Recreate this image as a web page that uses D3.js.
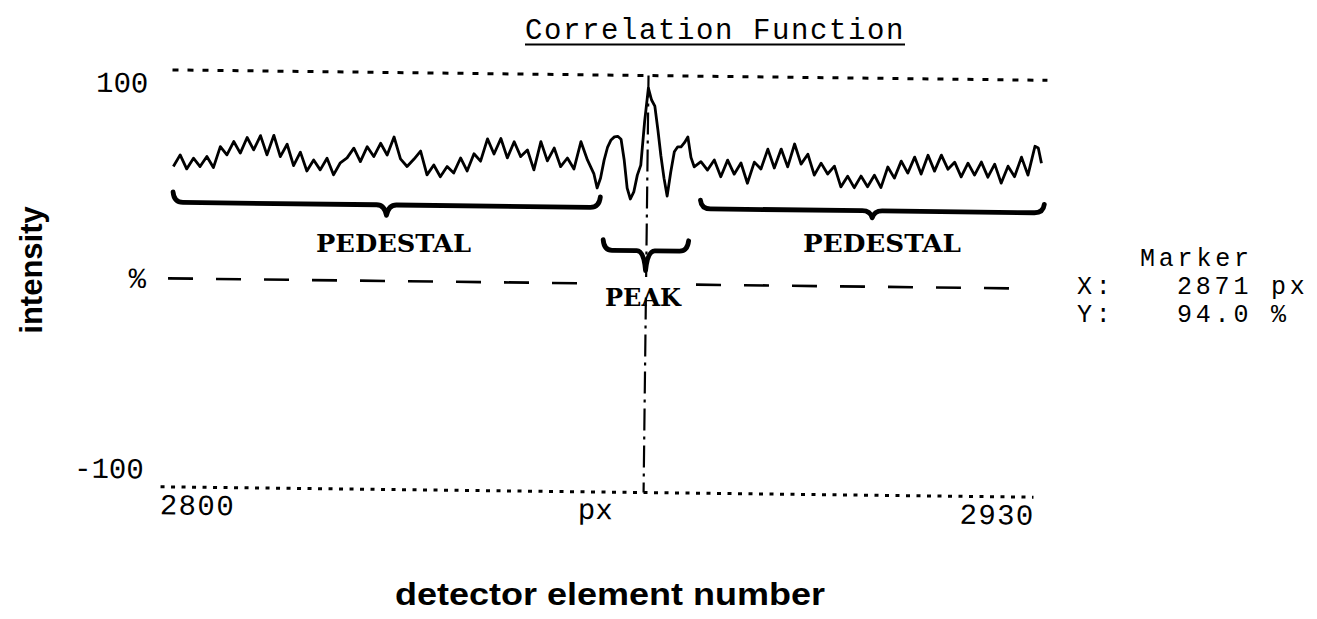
<!DOCTYPE html>
<html><head><meta charset="utf-8">
<script src="https://cdn.jsdelivr.net/npm/d3@7"></script>
<style>body{margin:0;background:#fff} svg{display:block}</style>
</head><body>
<svg id="chart" width="1317" height="619"></svg>
<script>
// ---- data ----
const elements = [
 2800,2801,2802,2803,2804,2805,2806,2807,2808,2809,2810,2811,2812,2813,2814,2815,2816,2817,2818,2819,
 2820,2821,2822,2823,2824,2825,2826,2827,2828,2829,2830,2831,2832,2833,2834,2835,2836,2837,2838,2839,
 2840,2841,2842,2843,2844,2845,2846,2847,2848,2849,2850,2851,2852,2853,2854,2855,2856,2857,2858,2859,
 2860,2861,2862,2863,2863.5,2864,2864.5,2865,2865.5,2866,2866.5,2867,2867.5,2868,2868.5,2869,2869.5,
 2870,2870.5,2871,2871.5,2872,2872.5,2873,2873.5,2874,2874.5,2875,2875.5,2876,2876.5,2877,2877.5,
 2878,2879,2880,2881,2882,2883,2884,2885,2886,2887,2888,2889,2890,2891,2892,2893,2894,2895,2896,2897,
 2898,2899,2900,2901,2902,2903,2904,2905,2906,2907,2908,2909,2910,2911,2912,2913,2914,2915,2916,2917,
 2918,2919,2920,2921,2922,2923,2924,2925,2926,2927,2928,2929,2929.5,2930
];
const intensity = [
 53.7,59.3,52.6,57.8,53.8,58.7,53.4,63.5,59.6,66.0,60.5,68.0,62.1,69.0,59.8,69.2,59.0,65.0,54.8,61.3,
 52.3,57.6,52.9,58.5,50.6,56.4,58.8,63.5,57.1,64.3,59.6,66.0,60.4,69.1,58.6,55.0,58.5,62.5,51.1,55.9,
 50.3,55.2,52.2,59.4,53.2,61.5,58.0,68.7,61.5,69.0,59.7,67.5,60.4,63.6,54.1,67.7,58.5,64.7,55.8,60.0,
 54.8,67.9,59.2,52.5,45.8,50.6,59.2,65.5,68.9,70.4,70.7,69.3,59.5,45.9,40.7,44.1,52.2,
 57.0,78.0,94.0,88.3,85.4,74.0,61.5,50.9,42.3,53.9,63.6,66.0,66.0,68.0,70.8,61.0,
 56.5,59.0,55.0,59.9,51.9,59.9,53.2,58.6,48.9,59.1,55.8,65.4,56.4,65.5,57.0,68.0,58.4,63.2,53.2,59.0,
 53.8,57.6,47.7,52.9,47.4,53.0,47.9,53.5,47.6,57.5,52.2,60.4,54.7,62.4,54.3,63.4,55.8,63.5,56.8,60.2,
 53.2,59.8,54.1,60.4,53.2,59.5,50.4,58.6,53.6,63.0,54.4,68.3,67.5,60.2
];
const yTicks = [100, 0, -100];
const yTickLabels = ["100", "%", "-100"];
const xTicks = [2800, 2930];
const xTickLabels = ["2800", "2930"];
const unitLabel = "px";
const titleText = "Correlation Function";
const markerX = 2871;
const markerY = 94.0;
const braceFrom = [2800, 2864.5, 2879];
const braceTo = [2864, 2877.3, 2930.5];
const braceLabels = ["PEDESTAL", "PEAK", "PEDESTAL"];

// ---- drawing ----
const mono = "'Liberation Mono','DejaVu Sans Mono',monospace";
const serif = "'DejaVu Serif','Liberation Serif',serif";
const sans = "'Liberation Sans',Arial,sans-serif";
const svg = d3.select('#chart');
const x = d3.scaleLinear().domain([2800, 2930]).range([172, 1040]);
const y = d3.scaleLinear().domain([-100, 100]).range([492, 75]);

const g = svg.append('g').attr('transform', 'rotate(0.68,600,283)');

// frame lines
g.append('line').attr('x1', x(2800) - 2).attr('x2', x(2930) + 5)
 .attr('y1', y(100)).attr('y2', y(100))
 .attr('stroke', '#000').attr('stroke-width', 3).attr('stroke-dasharray', '6,9');
g.append('line').attr('x1', x(2800) - 9).attr('x2', x(2930) - 4)
 .attr('y1', y(-100)).attr('y2', y(-100))
 .attr('stroke', '#000').attr('stroke-width', 3).attr('stroke-dasharray', '4,6.5');
g.append('line').attr('x1', x(2800) - 4).attr('x2', x(2930) - 8)
 .attr('y1', y(0)).attr('y2', y(0))
 .attr('stroke', '#000').attr('stroke-width', 2.6).attr('stroke-dasharray', '25,23');

// axes
const yAxis = d3.axisLeft(y).tickValues(yTicks).tickFormat((d, i) => yTickLabels[i]).tickSize(0).tickPadding(26);
const ya = g.append('g').attr('transform', `translate(${x(2800)},0)`).call(yAxis);
ya.select('.domain').remove();
ya.selectAll('text').attr('font-family', mono).attr('font-size', 29).attr('fill', '#000')
 .attr('y', d => d === 100 ? 13 : (d === -100 ? -18 : 0));

const xAxis = d3.axisBottom(x).tickValues(xTicks).tickFormat((d, i) => xTickLabels[i]).tickSize(0).tickPadding(7);
const xa = g.append('g').attr('transform', `translate(0,${y(-100)})`).call(xAxis);
xa.select('.domain').remove();
xa.selectAll('text').attr('font-family', mono).attr('font-size', 29).attr('fill', '#000')
 .attr('letter-spacing', 1.4)
 .attr('text-anchor', d => d === 2800 ? 'start' : 'end')
 .attr('x', d => d === 2800 ? -10 : -3);
g.append('text').attr('x', x(d3.mean(x.domain())) - 8).attr('y', y(-100) + 27)
 .attr('text-anchor', 'middle').attr('font-family', mono).attr('font-size', 29)
 .text(unitLabel);

// braces
function bracePath(a, b, lineV, endV, tipV, r) {
  const xa0 = x(a), xb0 = x(b), xm = (xa0 + xb0) / 2;
  const yl = y(lineV), ye = y(endV), yt = y(tipV);
  const p = d3.path();
  p.moveTo(xa0, ye);
  p.quadraticCurveTo(xa0 + 1, yl, xa0 + r, yl);
  p.lineTo(xm - r, yl);
  p.quadraticCurveTo(xm - 2, yl, xm, yt);
  p.quadraticCurveTo(xm + 2, yl, xm + r, yl);
  p.lineTo(xb0 - r, yl);
  p.quadraticCurveTo(xb0 - 1, yl, xb0, ye);
  return p.toString();
}
const braceLevels = [[36.5, 41.5, 31.5, 10], [16, 21, 6.5, 9], [36.4, 40.5, 33, 10]];
braceFrom.forEach((a, i) => {
  const L = braceLevels[i];
  g.append('path').attr('d', bracePath(a, braceTo[i], L[0], L[1], L[2], L[3]))
   .attr('fill', 'none').attr('stroke', '#000').attr('stroke-width', 4.8)
   .attr('stroke-linecap', 'round').attr('stroke-linejoin', 'round');
});

// curve
const line = d3.line().x(d => x(d[0])).y(d => y(d[1]));
g.append('path').datum(d3.zip(elements, intensity)).attr('d', line)
 .attr('fill', 'none').attr('stroke', '#000').attr('stroke-width', 2.8)
 .attr('stroke-linejoin', 'round');

// marker line
g.append('line').attr('x1', x(markerX)).attr('x2', x(markerX))
 .attr('y1', y(100)).attr('y2', y(-100))
 .attr('stroke', '#000').attr('stroke-width', 2.2).attr('stroke-dasharray', '22,6,3,6');

// labels (outside the tilted frame)
svg.append('text').attr('x', 525).attr('y', 39).attr('font-family', mono).attr('font-size', 29)
 .attr('letter-spacing', 1.6).text(titleText);
svg.append('line').attr('x1', 525).attr('x2', 905).attr('y1', 44.5).attr('y2', 44.5)
 .attr('stroke', '#000').attr('stroke-width', 2);

const labelPos = [[316, 252, 155], [605, 306, 76], [803, 252, 158]];
svg.append('rect').attr('x', 590).attr('y', 277).attr('width', 100).attr('height', 16).attr('fill', '#fff');
braceLabels.forEach((t, i) => {
  svg.append('text').attr('x', labelPos[i][0]).attr('y', labelPos[i][1])
   .attr('font-family', serif).attr('font-weight', 'bold').attr('font-size', 25)
   .attr('textLength', labelPos[i][2]).attr('lengthAdjust', 'spacingAndGlyphs').text(t);
});

const mk = svg.append('g').attr('font-family', mono).attr('font-size', 25).attr('letter-spacing', 3.8);
mk.append('text').attr('x', 1140).attr('y', 266).text('Marker');
mk.append('text').attr('x', 1077).attr('y', 294).text('X:');
mk.append('text').attr('x', 1177).attr('y', 294).text(`${markerX} px`);
mk.append('text').attr('x', 1077).attr('y', 322).text('Y:');
mk.append('text').attr('x', 1177).attr('y', 322).text(`${markerY.toFixed(1)} %`);

svg.append('text').attr('transform', 'translate(42,270) rotate(-90)')
 .attr('text-anchor', 'middle').attr('font-family', sans).attr('font-weight', 'bold')
 .attr('font-size', 31).text('intensity');
svg.append('text').attr('x', 395).attr('y', 605)
 .attr('font-family', sans).attr('font-weight', 'bold').attr('font-size', 31)
 .attr('textLength', 430).attr('lengthAdjust', 'spacingAndGlyphs')
 .text('detector element number');
</script>
</body></html>
